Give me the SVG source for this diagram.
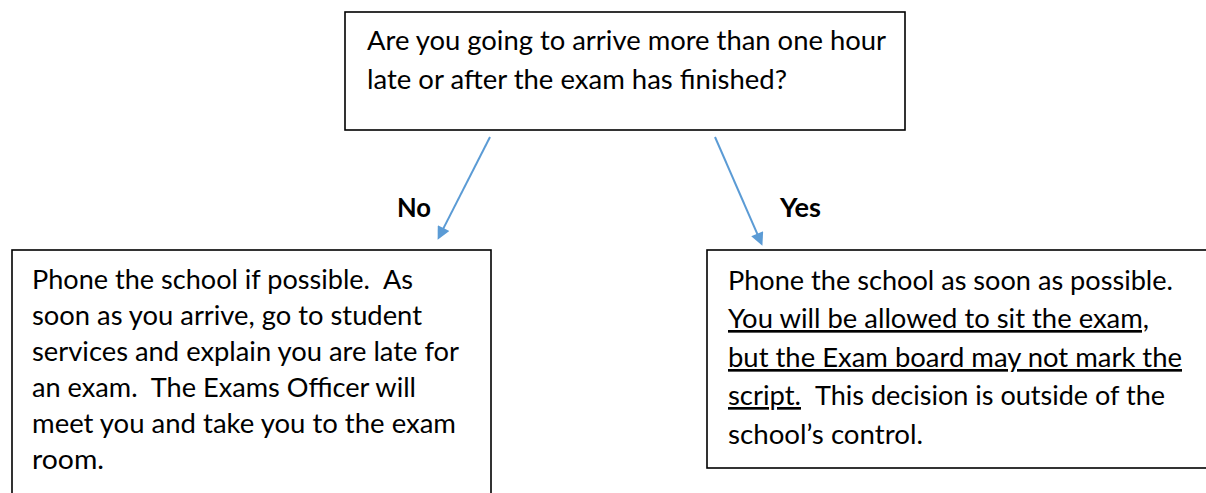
<svg xmlns="http://www.w3.org/2000/svg" width="1206" height="493" viewBox="0 0 1206 493">
<style>
.box{fill:#fff;stroke:#000;stroke-width:1.6}
.t{font-family:Lato,"Liberation Sans",sans-serif;font-size:26.5px;fill:#000}
.b{font-family:Lato,"Liberation Sans",sans-serif;font-size:26.5px;font-weight:bold;fill:#000}
.u{text-decoration:underline}
.conn{stroke:#5B9BD5;stroke-width:2;fill:none}
</style>
<defs>
<marker id="ah" viewBox="0 0 10 10" refX="5" refY="5" markerWidth="8" markerHeight="6.5" orient="auto" markerUnits="strokeWidth">
<path d="M0,0 L10,5 L0,10 z" fill="#5B9BD5"/>
</marker>
</defs>
<rect width="1206" height="493" fill="#fff"/>
<g id="question">
<rect class="box" x="345" y="12" width="560" height="118"/>
<text class="t" x="367" y="50" textLength="519" lengthAdjust="spacingAndGlyphs">Are you going to arrive more than one hour</text>
<text class="t" x="367" y="89" textLength="420" lengthAdjust="spacingAndGlyphs">late or after the exam has finished?</text>
</g>
<g id="connectors">
<line class="conn" x1="490" y1="137" x2="440.6" y2="233.9" marker-end="url(#ah)"/>
<line class="conn" x1="715" y1="137" x2="759.8" y2="239.7" marker-end="url(#ah)"/>
<text class="b" x="397" y="217" textLength="34" lengthAdjust="spacingAndGlyphs">No</text>
<text class="b" x="780" y="217" textLength="41" lengthAdjust="spacingAndGlyphs">Yes</text>
</g>
<g id="no-answer">
<rect class="box" x="12" y="250" width="479" height="260"/>
<text class="t" x="32" y="289" textLength="381" lengthAdjust="spacingAndGlyphs" xml:space="preserve">Phone the school if possible.  As</text>
<text class="t" x="32" y="325" textLength="390" lengthAdjust="spacingAndGlyphs">soon as you arrive, go to student</text>
<text class="t" x="32" y="361" textLength="427" lengthAdjust="spacingAndGlyphs">services and explain you are late for</text>
<text class="t" x="32" y="397" textLength="384" lengthAdjust="spacingAndGlyphs" xml:space="preserve">an exam.  The Exams Officer will</text>
<text class="t" x="32" y="433" textLength="424" lengthAdjust="spacingAndGlyphs">meet you and take you to the exam</text>
<text class="t" x="32" y="469" textLength="72" lengthAdjust="spacingAndGlyphs">room.</text>
</g>
<g id="yes-answer">
<rect class="box" x="707" y="250" width="520" height="218"/>
<text class="t" x="728" y="290" textLength="445" lengthAdjust="spacingAndGlyphs">Phone the school as soon as possible.</text>
<text class="t u" x="728" y="328" textLength="421" lengthAdjust="spacingAndGlyphs">You will be allowed to sit the exam,</text>
<text class="t u" x="728" y="367" textLength="454" lengthAdjust="spacingAndGlyphs">but the Exam board may not mark the</text>
<text class="t u" x="728" y="405" textLength="73" lengthAdjust="spacingAndGlyphs">script.</text>
<text class="t" x="815" y="405" textLength="350" lengthAdjust="spacingAndGlyphs">This decision is outside of the</text>
<text class="t" x="728" y="444" textLength="195" lengthAdjust="spacingAndGlyphs">school’s control.</text>
</g>
</svg>
